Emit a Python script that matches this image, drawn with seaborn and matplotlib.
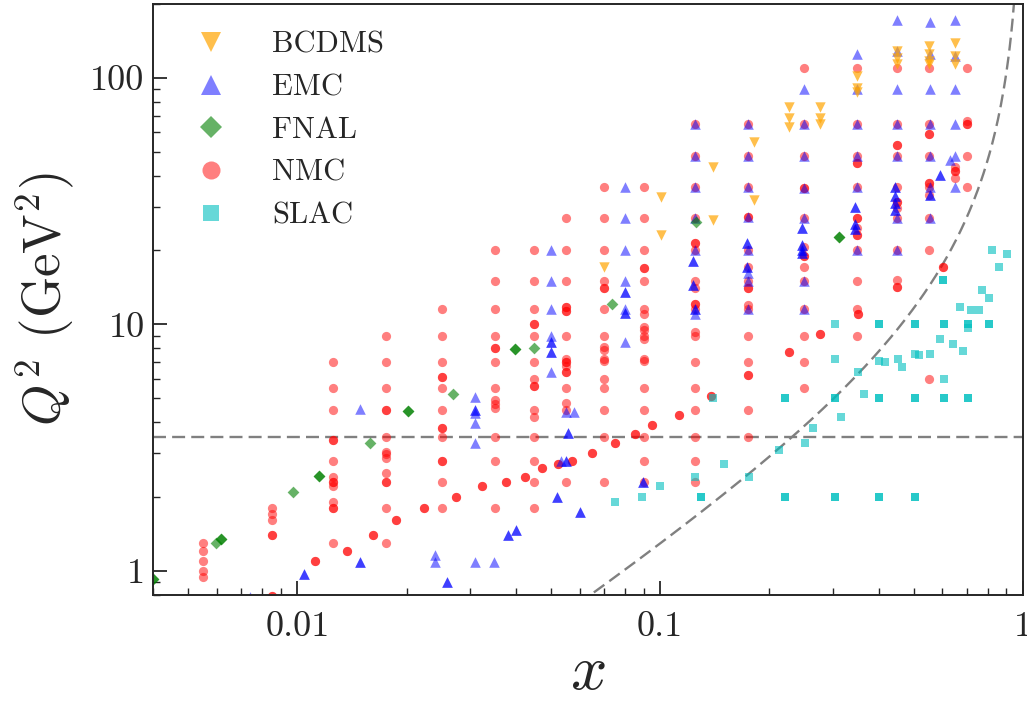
import numpy as np
import matplotlib
matplotlib.use("Agg")
import matplotlib.pyplot as plt
import seaborn as sns
from matplotlib.ticker import FixedLocator, FixedFormatter, LogLocator, NullFormatter
from matplotlib.lines import Line2D

# ---------------- data ----------------
nmc_bins = [0.0055, 0.0085, 0.0125, 0.0175, 0.025, 0.035, 0.045, 0.055, 0.07, 0.09,
            0.125, 0.175, 0.25, 0.35, 0.45, 0.55, 0.65, 0.7]
nmc_q2 = [
    [0.94, 1.0, 1.1, 1.2, 1.3],
    [0.79, 1.4, 1.6, 1.7, 1.8],
    [1.3, 1.8, 1.9, 2.2, 2.3, 2.4, 2.8, 3.4, 4.5, 5.5, 7.0],
    [1.3, 1.8, 2.3, 2.5, 2.86, 2.97, 3.04, 3.5, 4.5, 5.5, 7.0, 9.0],
    [1.8, 2.3, 2.8, 3.5, 3.8, 4.5, 5.5, 6.1, 7.0, 9.0, 11.5],
    [1.8, 2.8, 3.5, 4.56, 4.74, 4.93, 5.5, 7.0, 8.0, 9.0, 11.5, 15, 20],
    [1.8, 2.3, 2.8, 3.5, 4.2, 4.5, 5.6, 6.0, 7.0, 9.0, 10.0, 11.5, 15, 20],
    [2.3, 4.5, 4.8, 5.5, 6.4, 6.8, 7.0, 7.2, 9.0, 11.3, 11.7, 15, 20, 27],
    [2.3, 3.5, 4.5, 5.5, 6.0, 7.07, 7.26, 7.86, 8.1, 9.0, 11.5, 14.0, 15, 20, 27, 36],
    [2.3, 2.8, 3.5, 4.5, 5.5, 7.07, 7.26, 8.7, 9.0, 9.5, 9.75, 11.05, 11.5, 15, 16.9, 20, 27, 36],
    [2.3, 2.8, 3.5, 4.5, 5.5, 7.0, 9.0, 9.33, 11.5, 12.1, 14.0, 15, 20, 21.4, 27, 36, 48, 65],
    [3.5, 4.5, 7.0, 9.0, 11.5, 12.0, 14.0, 15, 17.1, 20, 27.3, 36, 48, 65],
    [5.5, 7.0, 9.0, 11.5, 15, 17.1, 19.0, 20.6, 27, 35.6, 48, 65, 110],
    [9.0, 11.5, 15, 20, 23, 24.5, 26.9, 36, 45.2, 48, 65, 110],
    [15.1, 20, 27, 29.5, 31.3, 36, 48, 53.6, 65, 110],
    [6.0, 20, 27, 33.4, 36, 37.5, 48, 59, 65, 110],
    [39.3, 41.9, 43.6],
    [36, 48, 65, 67, 110],
]
# lowest-Q2 NMC points (measured twice -> darker)
nmc_low_x = [0.0112, 0.0137, 0.0162, 0.0187, 0.0224, 0.0274, 0.0323, 0.0375, 0.0424, 0.0473,
             0.0524, 0.0573, 0.065, 0.075, 0.085, 0.095, 0.113, 0.138, 0.175, 0.226,
             0.276, 0.352, 0.45, 0.603]
nmc_low_q2 = [1.1, 1.2, 1.4, 1.6, 1.8, 2.0, 2.2, 2.3, 2.4, 2.6,
              2.7, 2.8, 3.0, 3.3, 3.6, 3.9, 4.3, 5.1, 6.2, 7.7,
              9.1, 11.0, 14.2, 17.1]
# repeated NMC kinematic points
nmc_rep_x = [0.0085, 0.0085, 0.0125, 0.0125, 0.0125, 0.0175, 0.0175, 0.025, 0.025, 0.025,
             0.035, 0.045, 0.045, 0.055, 0.055, 0.055, 0.055, 0.07, 0.09, 0.125,
             0.125, 0.175, 0.175, 0.25, 0.25, 0.35, 0.35, 0.35, 0.45, 0.45,
             0.55, 0.55, 0.65, 0.7]
nmc_rep_q2 = [0.79, 1.4, 1.8, 2.3, 3.4, 2.3, 4.5, 2.8, 3.8, 6.1,
              8.0, 5.6, 10.0, 6.4, 7.0, 11.3, 11.7, 14.0, 16.9, 12.1,
              21.4, 14.0, 27.3, 19.0, 35.6, 23, 26.9, 45.2, 31.3, 53.6,
              37.5, 59, 41.9, 65]

emc_x = [0.0074, 0.0104, 0.0149, 0.0149, 0.0239, 0.0239, 0.0259, 0.0308, 0.0349, 0.038, 0.040,
         0.0308, 0.0308, 0.0308, 0.0308, 0.0308,
         0.05, 0.05, 0.05, 0.05, 0.05, 0.05, 0.05,
         0.0549, 0.0579, 0.0557, 0.0532, 0.0549, 0.052, 0.060,
         0.08, 0.08, 0.08, 0.08, 0.08, 0.08, 0.08, 0.08,
         0.0899,
         0.125, 0.125, 0.123, 0.123, 0.125, 0.125, 0.125, 0.125, 0.125,
         0.175, 0.175, 0.175, 0.1735, 0.175, 0.1735, 0.175, 0.175, 0.175, 0.175,
         0.25, 0.25, 0.2456, 0.2456, 0.2456, 0.2456, 0.25, 0.25, 0.25, 0.25, 0.25,
         0.35, 0.345, 0.345, 0.345, 0.35, 0.35, 0.35, 0.35, 0.35,
         0.45, 0.45, 0.445, 0.445, 0.445, 0.445, 0.45, 0.45, 0.45, 0.45, 0.45,
         0.555, 0.555, 0.555, 0.59, 0.555, 0.555, 0.555, 0.555, 0.555,
         0.628, 0.65, 0.65, 0.65, 0.65, 0.65, 0.65]
emc_q2 = [0.78, 0.967, 4.52, 1.09, 1.16, 1.09, 0.90, 1.09, 1.09, 1.40, 1.47,
          3.30, 3.98, 4.35, 4.49, 5.08,
          6.42, 7.75, 8.5, 9.0, 11.5, 15, 20,
          4.42, 4.42, 3.61, 2.79, 2.79, 2.0, 1.73,
          8.5, 11.1, 11.5, 13.5, 15, 20, 27, 36,
          2.30,
          11.0, 11.5, 14.4, 18.1, 20, 27, 36, 48, 65,
          11.5, 15, 16.1, 17.1, 20, 21.3, 27.3, 36, 48, 65,
          11.5, 15, 19.5, 20.0, 20.9, 24.5, 27, 35.6, 48, 65, 90,
          20, 24.3, 25.6, 30, 36, 48, 65, 90, 125,
          20, 27, 29, 31, 33, 36, 48, 65, 90, 128, 171,
          27, 33.4, 36, 40.3, 48, 65, 90, 125, 168,
          46.3, 36, 48, 65, 90, 122, 171]
emc_rep_x = [0.0104, 0.0149, 0.0259, 0.038, 0.040, 0.0308, 0.05, 0.05, 0.0557, 0.0549,
             0.052, 0.060, 0.08, 0.08, 0.0899, 0.125, 0.123, 0.123, 0.1735, 0.1735,
             0.2456, 0.2456, 0.2456, 0.2456, 0.345, 0.345, 0.345, 0.445, 0.445, 0.445,
             0.445, 0.59, 0.555]
emc_rep_q2 = [0.967, 1.09, 0.90, 1.40, 1.47, 4.49, 7.75, 8.5, 3.61, 2.79,
              2.0, 1.73, 11.1, 13.5, 2.30, 11.5, 14.4, 18.1, 17.1, 21.3,
              19.5, 20.0, 20.9, 24.5, 24.3, 25.6, 30, 29, 31, 33,
              36, 40.3, 33.4]

fnal_x = [0.004, 0.00595, 0.00614, 0.00973, 0.01148, 0.01588, 0.0202, 0.02685, 0.0399, 0.0449,
          0.0738, 0.1255, 0.311]
fnal_q2 = [0.93, 1.30, 1.35, 2.09, 2.43, 3.29, 4.44, 5.19, 7.92, 7.98,
           12.1, 26.0, 22.5]
fnal_rep_x = [0.004, 0.00614, 0.01148, 0.0202, 0.0399, 0.311]
fnal_rep_q2 = [0.93, 1.35, 2.43, 4.44, 7.92, 22.5]

bcdms_x = [0.07, 0.1004, 0.1004, 0.14, 0.14, 0.181, 0.181, 0.226, 0.226, 0.226,
           0.276, 0.276, 0.276, 0.35, 0.35, 0.35, 0.45, 0.45, 0.45,
           0.55, 0.55, 0.55, 0.55, 0.65, 0.65, 0.65]
bcdms_q2 = [17.1, 32.9, 23.0, 43.6, 26.5, 55, 31.9, 76, 68.5, 63.2,
            76, 68.5, 64.9, 101.6, 90.6, 87.7, 128, 120, 114,
            134, 125, 117, 114, 138, 122, 114]

slac_x = [0.0752, 0.0891, 0.1, 0.125, 0.130, 0.14, 0.150, 0.1755, 0.213, 0.221,
          0.221, 0.2513, 0.2646, 0.3025, 0.3025, 0.3025, 0.3025, 0.3155, 0.352, 0.3645,
          0.40, 0.40, 0.40, 0.40, 0.416, 0.453, 0.465, 0.503, 0.503, 0.518,
          0.503, 0.503, 0.5554, 0.5897, 0.605, 0.605, 0.605, 0.603, 0.642, 0.670,
          0.6818, 0.706, 0.706, 0.706, 0.721, 0.755, 0.769, 0.807, 0.807, 0.820,
          0.858, 0.905]
slac_q2 = [1.905, 2.0, 2.21, 2.41, 2.0, 5.0, 2.70, 2.41, 3.09, 5.0,
           2.0, 3.30, 3.81, 10.0, 7.2, 5.0, 2.0, 4.22, 6.42, 5.19,
           10.0, 7.1, 5.0, 2.0, 7.0, 7.2, 6.68, 10.0, 7.6, 7.5,
           5.0, 2.0, 7.6, 8.72, 10.0, 6.0, 5.0, 15.1, 8.32, 11.8,
           7.8, 10.0, 9.7, 5.0, 11.4, 11.4, 13.8, 12.8, 10.0, 20.1,
           17.0, 19.2]
slac_rep_x = [0.130, 0.221, 0.221, 0.3025, 0.3025, 0.40, 0.40, 0.40, 0.503, 0.503,
              0.503, 0.605, 0.605, 0.603, 0.706, 0.706, 0.807]
slac_rep_q2 = [2.0, 5.0, 2.0, 5.0, 2.0, 10.0, 5.0, 2.0, 10.0, 5.0,
               2.0, 10.0, 5.0, 15.1, 10.0, 5.0, 10.0]

q2_cut = 3.5          # horizontal cut
w2_cut = 12.5         # W^2 cut (GeV^2)
m_p = 0.938

# ---------------- style ----------------
sns.set_style("ticks")
plt.rcParams.update({
    "font.family": "serif",
    "font.serif": ["cmr10"],
    "mathtext.fontset": "cm",
    "axes.unicode_minus": False,
    "axes.formatter.use_mathtext": True,
    "axes.linewidth": 1.4,
})

fig = plt.figure(figsize=(10.27, 7.13), dpi=100)
ax = fig.add_axes([0.149, 0.166, 0.847, 0.829])

nmc_x_all = [b for b, qs in zip(nmc_bins, nmc_q2) for _ in qs]
nmc_q2_all = [q for qs in nmc_q2 for q in qs]
nmc_x_all = nmc_x_all + nmc_low_x + nmc_low_x + nmc_rep_x
nmc_q2_all = nmc_q2_all + nmc_low_q2 + nmc_low_q2 + nmc_rep_q2

common = dict(ax=ax, linewidth=0, legend=False)
sns.scatterplot(x=nmc_x_all, y=nmc_q2_all, color="red", marker="o", s=44, alpha=0.5, **common)
sns.scatterplot(x=slac_x + slac_rep_x, y=slac_q2 + slac_rep_q2, color="c", marker="s", s=40, alpha=0.6, **common)
sns.scatterplot(x=emc_x + emc_rep_x, y=emc_q2 + emc_rep_q2, color="blue", marker="^", s=58, alpha=0.5, **common)
sns.scatterplot(x=fnal_x + fnal_rep_x, y=fnal_q2 + fnal_rep_q2, color="green", marker="D", s=36, alpha=0.6, **common)
sns.scatterplot(x=bcdms_x, y=bcdms_q2, color="orange", marker="v", s=56, alpha=0.7, **common)

# cuts
ax.axhline(q2_cut, color="gray", lw=1.7, ls=(0, (5.5, 2.6)), zorder=0.5)
xc = np.logspace(np.log10(0.004), np.log10(0.999), 600)
ax.plot(xc, (w2_cut - m_p**2) * xc / (1 - xc), color="gray", lw=1.7, ls=(0, (5.5, 2.6)), zorder=0.5)

ax.set_xscale("log")
ax.set_yscale("log")
ax.set_xlim(0.004, 1)
ax.set_ylim(0.8, 200)

ax.xaxis.set_major_locator(FixedLocator([0.01, 0.1, 1]))
ax.xaxis.set_major_formatter(FixedFormatter(["0.01", "0.1", "1"]))
ax.yaxis.set_major_locator(FixedLocator([1, 10, 100]))
ax.yaxis.set_major_formatter(FixedFormatter(["1", "10", "100"]))
ax.xaxis.set_minor_locator(LogLocator(base=10, subs=np.arange(2, 10)))
ax.yaxis.set_minor_locator(LogLocator(base=10, subs=np.arange(2, 10)))
ax.xaxis.set_minor_formatter(NullFormatter())
ax.yaxis.set_minor_formatter(NullFormatter())
ax.tick_params(which="both", direction="in", top=False, right=False, labelsize=26)
ax.tick_params(which="major", length=10, width=1.3)
ax.tick_params(which="minor", length=5, width=1.0)
ax.tick_params(axis="x", which="major", pad=12)
ax.tick_params(axis="y", which="major", pad=6)

ax.set_xlabel(r"$x$", fontsize=46, labelpad=1)
ax.set_ylabel(r"$Q^2$ (GeV$^2$)", fontsize=38, labelpad=10)

# legend
handles = [
    Line2D([], [], ls="none", marker="v", color="orange", alpha=0.7, markersize=14, markeredgewidth=0),
    Line2D([], [], ls="none", marker="^", color="blue", alpha=0.5, markersize=14, markeredgewidth=0),
    Line2D([], [], ls="none", marker="D", color="green", alpha=0.6, markersize=11, markeredgewidth=0),
    Line2D([], [], ls="none", marker="o", color="red", alpha=0.5, markersize=13, markeredgewidth=0),
    Line2D([], [], ls="none", marker="s", color="c", alpha=0.6, markersize=12, markeredgewidth=0),
]
labels = ["BCDMS", "EMC", "FNAL", "NMC", "SLAC"]
ax.legend(handles, labels, loc="upper left", frameon=False, fontsize=22,
          handletextpad=1.0, labelspacing=0.5, borderaxespad=0.5)

fig.savefig("out.png", dpi=100)
